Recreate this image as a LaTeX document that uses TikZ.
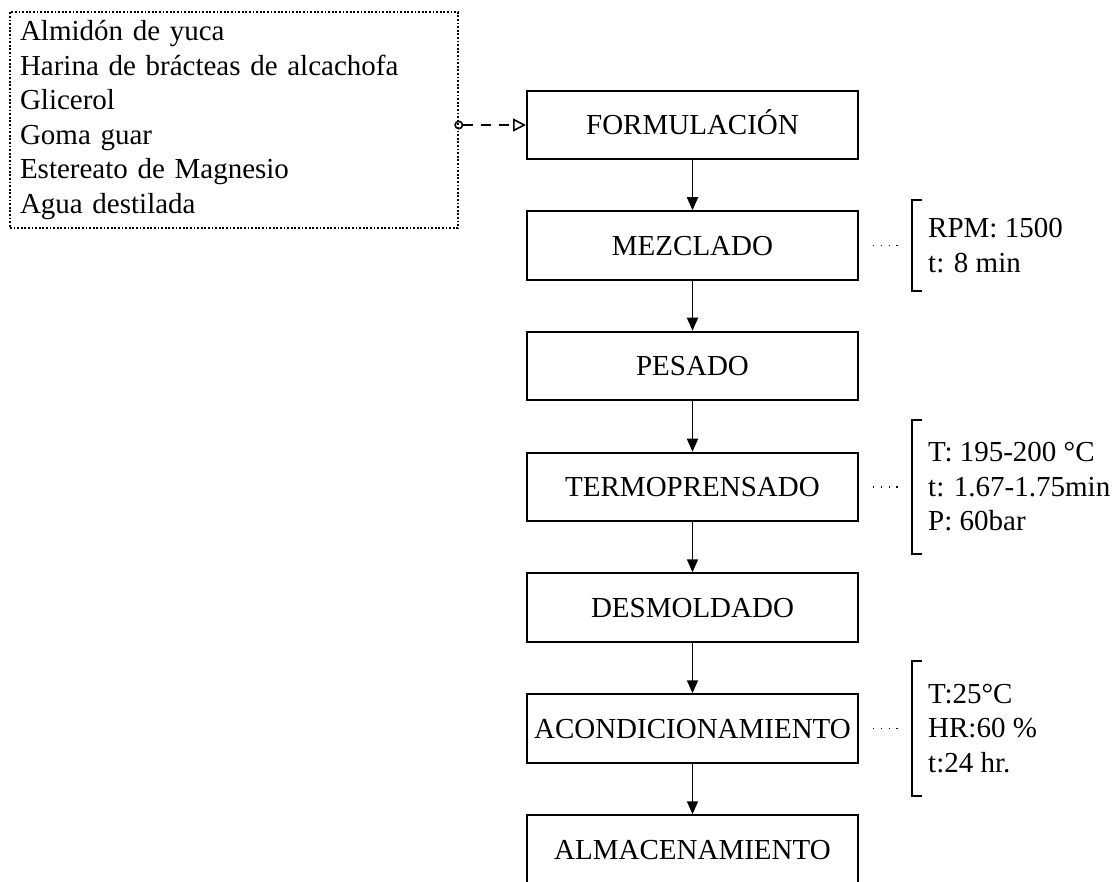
\documentclass[tikz,border=0pt]{standalone}
\usepackage{fontspec}
\setmainfont{Liberation Serif}
\usetikzlibrary{arrows.meta,calc}
\begin{document}
\begin{tikzpicture}[x=1pt,y=-1pt,
  every node/.style={font=\fontsize{29}{34.5}\selectfont},
  stepbox/.style={draw, line width=2pt, minimum width=331pt, minimum height=68.5pt,
    text height=19.2pt, text depth=0pt, inner sep=0pt},
  flow/.style={line width=1.8pt, -{Triangle[length=13pt,width=11pt]}},
  brk/.style={align=left, anchor=west, inner xsep=16pt, inner ysep=0pt},
  brkline/.style={line width=2pt},
  dotlink/.style={line width=1.3pt, dash pattern=on 1.3pt off 6.5pt},
  inbox/.style={draw, line width=1.6pt, dash pattern=on 1.8pt off 1.8pt,
    text width=428pt, inner xsep=10pt, inner ysep=0pt, minimum height=216pt, align=left},
  inlink/.style={line width=1.6pt, dash pattern=on 10pt off 8pt,
    {Circle[open,length=9pt,width=9pt]}-{Triangle[open,length=13pt,width=13pt]}}
]
\useasboundingbox (0,0) rectangle (1117,882);
\clip (0,0) rectangle (1117,882);

\node[inbox] (inp) at (234,120) {Almidón de yuca\\Harina de brácteas de alcachofa\\Glicerol\\Goma guar\\Estereato de Magnesio\\Agua destilada};

\node[stepbox] (form) at (692.5,125) {FORMULACIÓN};
\node[stepbox] (mez)  at (692.5,245.5) {MEZCLADO};
\node[stepbox] (pes)  at (692.5,366) {PESADO};
\node[stepbox] (ter)  at (692.5,487) {TERMOPRENSADO};
\node[stepbox] (des)  at (692.5,607.5) {DESMOLDADO};
\node[stepbox] (aco)  at (692.5,728.5) {ACONDICIONAMIENTO};
\node[stepbox] (alm)  at (692.5,849.5) {ALMACENAMIENTO};

\draw[flow] (form.south) -- (mez.north);
\draw[flow] (mez.south) -- (pes.north);
\draw[flow] (pes.south) -- (ter.north);
\draw[flow] (ter.south) -- (des.north);
\draw[flow] (des.south) -- (aco.north);
\draw[flow] (aco.south) -- (alm.north);

\draw[inlink] ($(inp.east |- form.west)+(-4.5,0)$) -- (form.west);

\node[brk, minimum height=91pt] (b1) at ([xshift=53pt]mez.east) {RPM: 1500\\t: 8 min};
\node[brk, minimum height=133pt] (b2) at ([xshift=53pt]ter.east) {T: 195-200 °C\\t: 1.67-1.75min\\P: 60bar};
\node[brk, minimum height=134pt] (b3) at ([xshift=53pt]aco.east) {T:25°C\\HR:60 \%\\t:24 hr.};

\foreach \b in {b1,b2,b3}{
  \draw[brkline] ($(\b.north west)+(10,0)$) -- (\b.north west) -- (\b.south west) -- ($(\b.south west)+(10,0)$);
}

\draw[dotlink] ($(mez.east)+(14,0)$) -- ($(b1.west)+(-8,0)$);
\draw[dotlink] ($(ter.east)+(14,0)$) -- ($(b2.west)+(-8,0)$);
\draw[dotlink] ($(aco.east)+(14,0)$) -- ($(b3.west)+(-8,0)$);
\end{tikzpicture}
\end{document}
